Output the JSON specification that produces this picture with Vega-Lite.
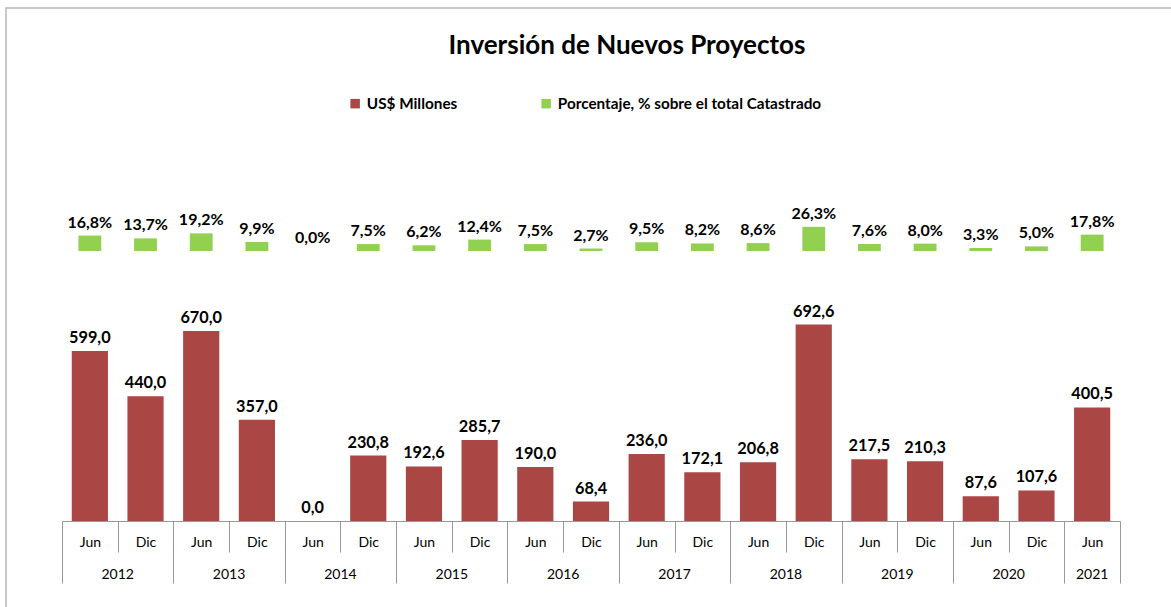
{
  "$schema": "https://vega.github.io/schema/vega-lite/v6.json",
  "autosize": {"type": "none"},
  "padding": {"left": 6, "top": 8, "right": 0, "bottom": 0},
  "width": 1242,
  "height": 620,
  "title": {"text": "Inversión de Nuevos Proyectos", "font": "Lato", "fontSize": 26, "fontWeight": "bold", "color": "#000000", "anchor": "middle", "frame": "group", "baseline": "alphabetic", "offset": -72},
  "data": {"values": [
    {"i": 0, "period": "Jun", "year": 2012, "value": 599.0, "pct": 0.168},
    {"i": 1, "period": "Dic", "year": 2012, "value": 440.0, "pct": 0.137},
    {"i": 2, "period": "Jun", "year": 2013, "value": 670.0, "pct": 0.192},
    {"i": 3, "period": "Dic", "year": 2013, "value": 357.0, "pct": 0.099},
    {"i": 4, "period": "Jun", "year": 2014, "value": 0.0, "pct": 0.0},
    {"i": 5, "period": "Dic", "year": 2014, "value": 230.8, "pct": 0.075},
    {"i": 6, "period": "Jun", "year": 2015, "value": 192.6, "pct": 0.062},
    {"i": 7, "period": "Dic", "year": 2015, "value": 285.7, "pct": 0.124},
    {"i": 8, "period": "Jun", "year": 2016, "value": 190.0, "pct": 0.075},
    {"i": 9, "period": "Dic", "year": 2016, "value": 68.4, "pct": 0.027},
    {"i": 10, "period": "Jun", "year": 2017, "value": 236.0, "pct": 0.095},
    {"i": 11, "period": "Dic", "year": 2017, "value": 172.1, "pct": 0.082},
    {"i": 12, "period": "Jun", "year": 2018, "value": 206.8, "pct": 0.086},
    {"i": 13, "period": "Dic", "year": 2018, "value": 692.6, "pct": 0.263},
    {"i": 14, "period": "Jun", "year": 2019, "value": 217.5, "pct": 0.076},
    {"i": 15, "period": "Dic", "year": 2019, "value": 210.3, "pct": 0.080},
    {"i": 16, "period": "Jun", "year": 2020, "value": 87.6, "pct": 0.033},
    {"i": 17, "period": "Dic", "year": 2020, "value": 107.6, "pct": 0.050},
    {"i": 18, "period": "Jun", "year": 2021, "value": 400.5, "pct": 0.178}
  ]},
  "layer": [
    {
      "mark": {"type": "bar", "width": {"band": 0.65}},
      "encoding": {
        "x": {"field": "i", "type": "ordinal",
              "scale": {"type": "band", "range": [56, 1114], "paddingInner": 0, "paddingOuter": 0},
              "axis": {"orient": "bottom", "offset": -107, "title": null, "labelAngle": 0,
                       "labelExpr": "isValid(datum.value) ? (datum.value % 2 == 0 ? 'Jun' : 'Dic') : ''",
                       "tickBand": "extent",
                       "tickSize": {"condition": {"test": "!isValid(datum.value) || datum.value % 2 == 1 || datum.value == 18", "value": 62}, "value": 31},
                       "tickColor": "#999999", "tickWidth": 1,
                       "domainColor": "#999999", "domainWidth": 1,
                       "labelFont": "Lato", "labelFontSize": 14, "labelColor": "#000000",
                       "labelBaseline": "middle",
                       "labelPadding": {"condition": {"test": "datum.value % 2 == 1 || datum.value == 18", "value": -41}, "value": -10}}},
        "y": {"field": "value", "type": "quantitative", "scale": {"domain": [0, 1000], "range": [513, 229.4]}, "axis": null},
        "color": {"datum": "US$ Millones",
                  "scale": {"domain": ["US$ Millones", "Porcentaje, % sobre el total Catastrado"], "range": ["#AA4643", "#92D050"]},
                  "legend": {"orient": "none", "legendX": 341.5, "legendY": 88, "direction": "horizontal", "title": null,
                             "symbolType": "square", "symbolSize": 90, "symbolStrokeWidth": 0,
                             "labelFont": "Lato", "labelFontSize": 15.3, "labelFontWeight": "bold", "labelColor": "#000000",
                             "labelLimit": 0, "columnPadding": 81, "labelOffset": 4}}
      }
    },
    {
      "mark": {"type": "text", "baseline": "bottom", "dy": -5, "font": "Lato", "fontSize": 16.3, "fontWeight": "bold", "color": "#000000"},
      "encoding": {
        "x": {"field": "i", "type": "ordinal", "axis": null},
        "y": {"field": "value", "type": "quantitative", "scale": {"domain": [0, 1000], "range": [513, 229.4]}, "axis": null},
        "text": {"field": "value", "type": "quantitative", "format": ".1f"}
      }
    },
    {
      "mark": {"type": "bar", "width": {"band": 0.41}},
      "encoding": {
        "x": {"field": "i", "type": "ordinal",
              "axis": {"orient": "bottom", "offset": -107, "title": null, "labelAngle": 0,
                       "values": [0, 2, 4, 6, 8, 10, 12, 14, 16, 18],
                       "labelExpr": "isValid(datum.value) ? '' + (2012 + floor(datum.value / 2)) : ''",
                       "ticks": false, "tickSize": 62,
                       "domain": false,
                       "labelFont": "Lato", "labelFontSize": 14, "labelColor": "#000000",
                       "labelBaseline": "middle", "labelPadding": 53,
                       "labelOffset": {"condition": {"test": "datum.value == 18", "value": 0}, "value": 27.84}}},
        "y": {"field": "pct", "type": "quantitative", "scale": {"domain": [0, 1], "range": [243, 151]}, "axis": null},
        "color": {"datum": "Porcentaje, % sobre el total Catastrado"}
      }
    },
    {
      "mark": {"type": "text", "baseline": "bottom", "dy": -5, "font": "Lato", "fontSize": 16, "fontWeight": "bold", "color": "#000000"},
      "encoding": {
        "x": {"field": "i", "type": "ordinal", "axis": null},
        "y": {"field": "pct", "type": "quantitative", "scale": {"domain": [0, 1], "range": [243, 151]}, "axis": null},
        "text": {"field": "pct", "type": "quantitative", "format": ".1%"}
      }
    }
  ],
  "resolve": {"scale": {"y": "independent"}, "axis": {"x": "independent", "y": "independent"}},
  "config": {
    "font": "Lato",
    "locale": {"number": {"decimal": ",", "thousands": ".", "grouping": [3], "currency": ["$", ""]}},
    "view": {"stroke": "#b8b8b8", "strokeWidth": 1.5}
  }
}
